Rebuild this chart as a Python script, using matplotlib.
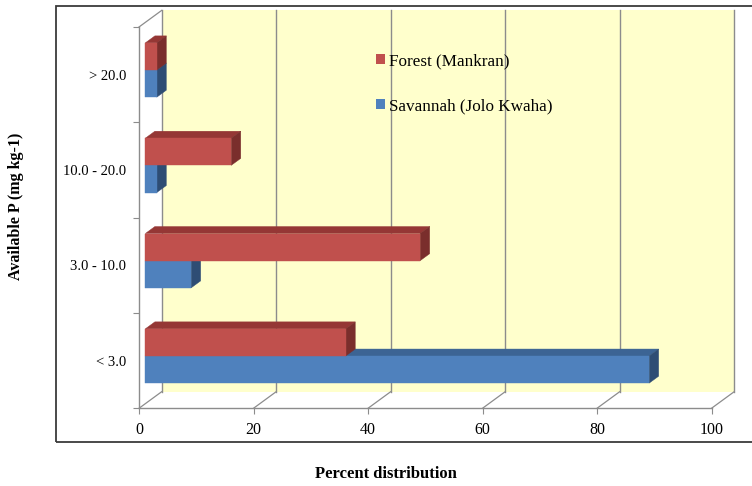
import matplotlib
matplotlib.use("Agg")
import matplotlib.pyplot as plt
from matplotlib.patches import Rectangle, Polygon, Patch

plt.rcParams['font.family'] = ['Liberation Serif', 'DejaVu Serif']

# data
categories = ["< 3.0", "3.0 - 10.0", "10.0 - 20.0", "> 20.0"]
forest = [35, 48, 15, 2]
savannah = [88, 8, 2, 2]
series_labels = ["Forest (Mankran)", "Savannah (Jolo Kwaha)"]
xticks = [0, 20, 40, 60, 80, 100]

# fake 3-D geometry (data units)
DEPTH_X, DEPTH_Y = 3.96, 0.174     # full depth of the floor
BAR_FRONT, BAR_DEPTH = 0.28, 0.42  # fractions of full depth
BAR_H = 0.285

RED = ("#C0504D", "#953735", "#7A2E2C")   # front, top, side
BLUE = ("#4F81BD", "#3C6494", "#2E4D74")
GRID = "#8C8C8C"

W, H = 752, 486
fig = plt.figure(figsize=(W / 100, H / 100), dpi=100)
ax = fig.add_axes([139 / W, (H - 408.3) / H, 572.5 / W, 381.3 / H])
ax.set_xlim(0, 100)
ax.set_ylim(0, len(categories))

# back wall + gridlines
ax.add_patch(Rectangle((DEPTH_X, DEPTH_Y), 100, len(categories),
                       facecolor="#FFFFCC", edgecolor="none", zorder=0,
                       clip_on=False))
for v in xticks:
    ax.plot([v + DEPTH_X] * 2, [DEPTH_Y, len(categories) + DEPTH_Y],
            color=GRID, lw=1, zorder=1, clip_on=False)
    ax.plot([v, v + DEPTH_X], [0, DEPTH_Y], color=GRID, lw=0.9, zorder=1,
            clip_on=False)
ax.plot([0, DEPTH_X], [len(categories), len(categories) + DEPTH_Y],
        color=GRID, lw=0.9, zorder=1, clip_on=False)


def bar3d(x0, y0, w, h, cols):
    ox, oy = BAR_FRONT * DEPTH_X, BAR_FRONT * DEPTH_Y
    dx, dy = BAR_DEPTH * DEPTH_X, BAR_DEPTH * DEPTH_Y
    x0, y0 = x0 + ox, y0 + oy
    ax.add_patch(Polygon([(x0, y0 + h), (x0 + w, y0 + h),
                          (x0 + w + dx, y0 + h + dy), (x0 + dx, y0 + h + dy)],
                         closed=True, facecolor=cols[1], edgecolor=cols[1],
                         lw=0.3, zorder=3, clip_on=False))
    ax.add_patch(Polygon([(x0 + w, y0), (x0 + w + dx, y0 + dy),
                          (x0 + w + dx, y0 + h + dy), (x0 + w, y0 + h)],
                         closed=True, facecolor=cols[2], edgecolor=cols[2],
                         lw=0.3, zorder=3, clip_on=False))
    ax.add_patch(Rectangle((x0, y0), w, h, facecolor=cols[0],
                           edgecolor=cols[0], lw=0.3, zorder=3,
                           clip_on=False))


for i in range(len(categories)):
    yc = i + 0.5
    bar3d(0, yc - BAR_H, savannah[i], BAR_H, BLUE)
    bar3d(0, yc, forest[i], BAR_H, RED)

# axes: front edge of floor and left wall
for s in ("top", "right"):
    ax.spines[s].set_visible(False)
for s in ("bottom", "left"):
    ax.spines[s].set_color(GRID)
    ax.spines[s].set_linewidth(1)
ax.set_xticks(xticks)
ax.tick_params(axis="x", length=4, color=GRID, labelsize=11.5, pad=6)
ax.set_yticks(range(len(categories) + 1))
ax.set_yticklabels([])
ax.set_yticks([i + 0.5 for i in range(len(categories))], minor=True)
ax.set_yticklabels(categories, minor=True)
ax.tick_params(axis="y", which="major", length=4, color=GRID)
ax.tick_params(axis="y", which="minor", length=0, labelsize=10.5, pad=9)

leg = fig.legend(handles=[Patch(facecolor=RED[0], label=series_labels[0]),
                          Patch(facecolor=BLUE[0], label=series_labels[1])],
                 loc="upper left", bbox_to_anchor=(376 / W, 1 - 53 / H),
                 frameon=False, fontsize=12.3, handlelength=0.55,
                 handleheight=0.55, handletextpad=0.2, labelspacing=1.7,
                 borderpad=0, borderaxespad=0)

fig.text(386 / W, 1 - 474 / H, "Percent distribution", ha="center",
         va="center", fontsize=12, fontweight="bold")
fig.text(16 / W, 1 - 206 / H, "Available P (mg kg-1)", ha="center",
         va="center", rotation=90, fontsize=11.5, fontweight="bold")

# outer chart frame (right edge falls off the canvas)
fig.add_artist(Rectangle((56 / W, (H - 441.7) / H), 1.0, (441.7 - 6) / H,
                         transform=fig.transFigure, fill=False,
                         edgecolor="#3A3A3A", lw=1.3))

fig.savefig("out.png", dpi=100)
